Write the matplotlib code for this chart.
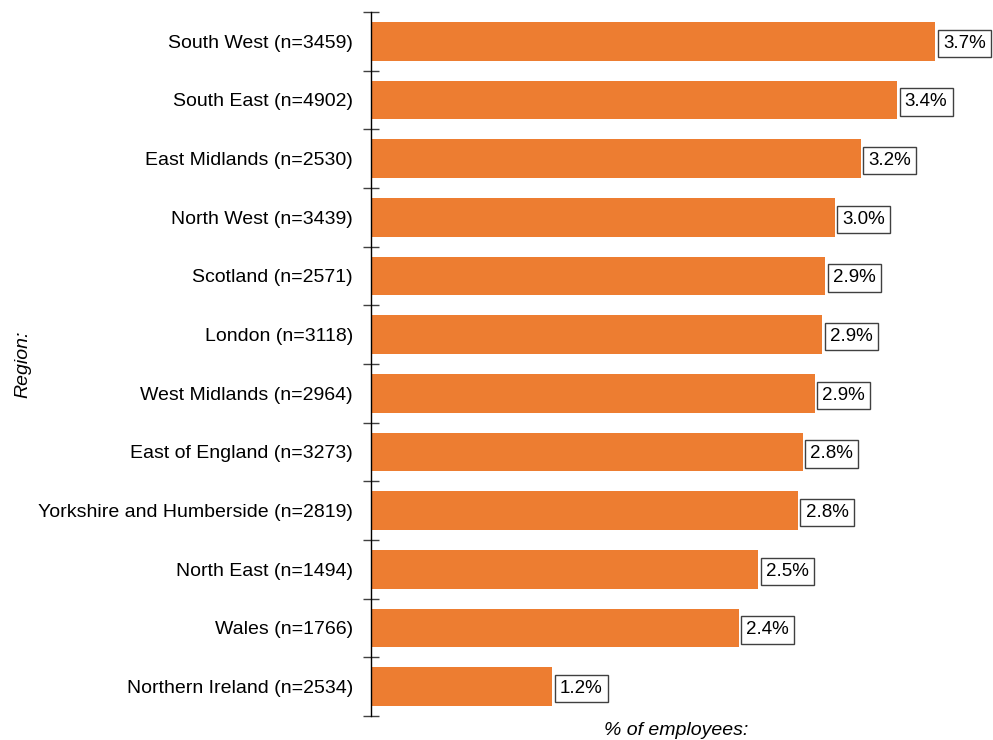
import numpy as np
import matplotlib
matplotlib.use("Agg")
import matplotlib.pyplot as plt

plt.rcParams['font.family'] = ['Liberation Sans', 'DejaVu Sans']

# Dados
regioes = [
    "South West (n=3459)",
    "South East (n=4902)",
    "East Midlands (n=2530)",
    "North West (n=3439)",
    "Scotland (n=2571)",
    "London (n=3118)",
    "West Midlands (n=2964)",
    "East of England (n=3273)",
    "Yorkshire and Humberside (n=2819)",
    "North East (n=1494)",
    "Wales (n=1766)",
    "Northern Ireland (n=2534)",
]
valores = [3.70, 3.45, 3.21, 3.04, 2.98, 2.96, 2.91, 2.83, 2.80, 2.54, 2.41, 1.19]
rotulos = ["3.7%", "3.4%", "3.2%", "3.0%", "2.9%", "2.9%", "2.9%",
           "2.8%", "2.8%", "2.5%", "2.4%", "1.2%"]

fig = plt.figure(figsize=(9.93, 7.40), dpi=100)
ax = fig.add_axes([371 / 993, 1 - 716 / 740, (981 - 371) / 993, (716 - 12) / 740])

y = np.arange(len(regioes))
ax.barh(y, valores, height=0.66, color="#ED7D31")

# Rotulos de valor com caixa
for yi, v, txt in zip(y, valores, rotulos):
    ax.annotate(txt, xy=(v, yi), xytext=(5.5, 0), textcoords="offset points",
                va="center_baseline", ha="left", fontsize=13.5, color="black",
                bbox=dict(boxstyle="square,pad=0.28", facecolor="white",
                          edgecolor="#404040", linewidth=1))

ax.set_xlim(0, 4.0)
ax.set_ylim(len(regioes) - 0.5, -0.5)

# Ticks nas divisorias entre categorias
ax.set_yticks(np.arange(-0.5, len(regioes), 1.0))
ax.set_yticklabels([])
ax.set_yticks(y, minor=True)
ax.set_yticklabels(regioes, minor=True, fontsize=14)
ax.tick_params(axis="y", which="major", direction="inout", length=11,
               width=1, color="#404040")
ax.tick_params(axis="y", which="minor", length=0, pad=13)
ax.set_xticks([])

for s in ["top", "right", "bottom"]:
    ax.spines[s].set_visible(False)
ax.spines["left"].set_color("black")
ax.spines["left"].set_linewidth(1)

ax.set_ylabel("Region:", fontsize=14, style="italic", labelpad=0)
ax.yaxis.set_label_coords(-0.557, 0.5)
ax.set_xlabel("% of employees:", fontsize=14, style="italic", labelpad=4)

plt.savefig("out.png", dpi=100)
